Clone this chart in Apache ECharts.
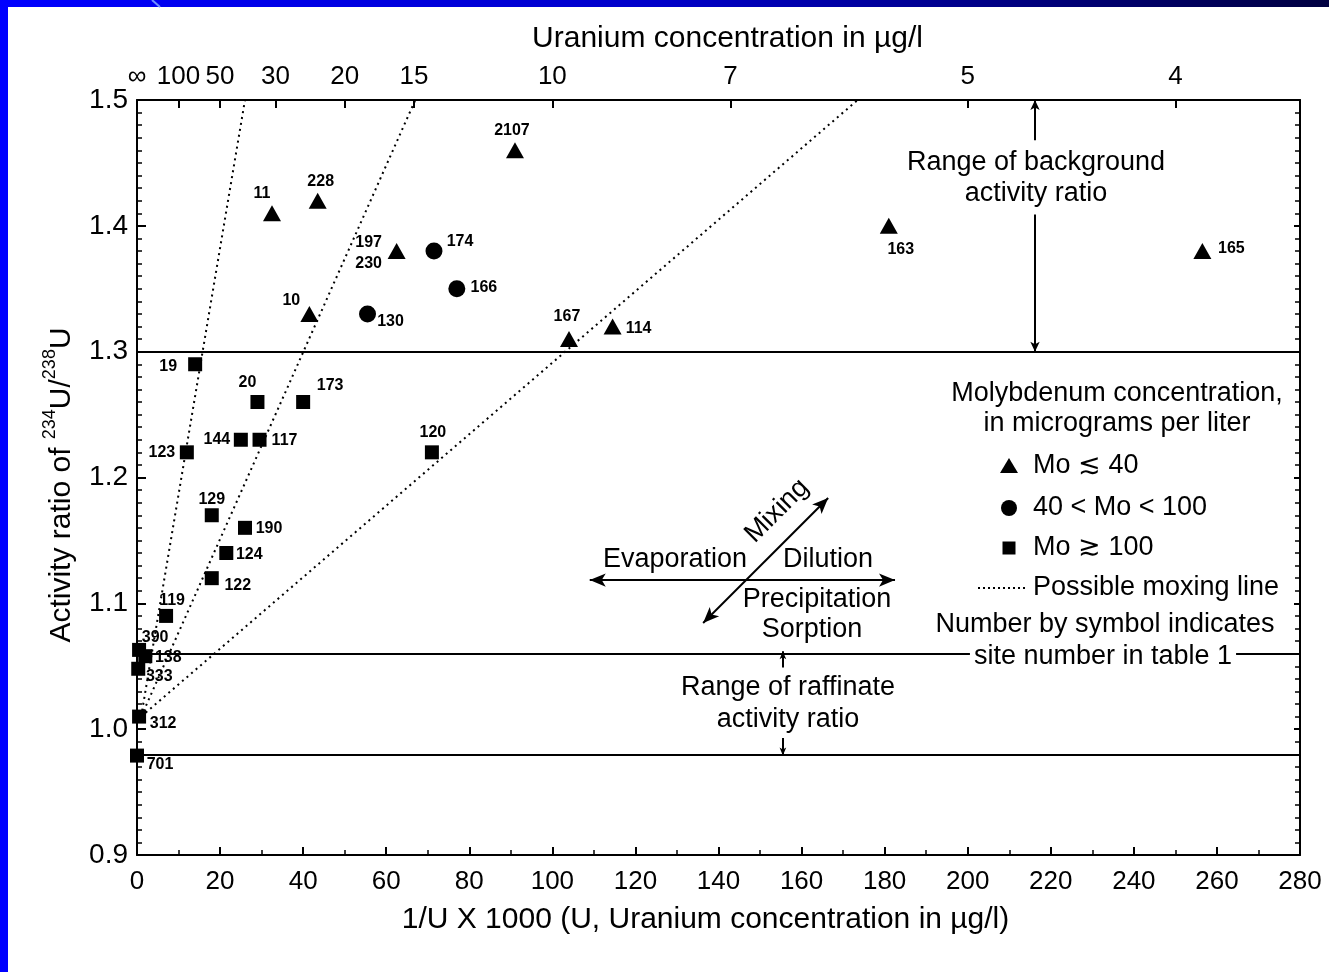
<!DOCTYPE html>
<html>
<head>
<meta charset="utf-8">
<script src="https://cdn.jsdelivr.net/npm/echarts@6/dist/echarts.min.js"></script>
<style>
html,body{margin:0;padding:0;background:#fff;}
#chart{width:1329px;height:972px;}
</style>
</head>
<body>
<div id="chart"></div>
<script>
// ---------- DATA ----------
// Triangles: Mo ≲ 40
const triSites = ['2107', '11', '228', '197\n230', '10', '167', '114', '163', '165'];
const triX = [91, 32.5, 43.5, 62.5, 41.5, 104, 114.5, 181, 256.5];
const triY = [1.46, 1.41, 1.42, 1.38, 1.33, 1.31, 1.32, 1.40, 1.38];
// Circles: 40 < Mo < 100
const circSites = ['174', '166', '130'];
const circX = [71.5, 77, 55.5];
const circY = [1.38, 1.35, 1.33];
// Squares: Mo ≳ 100
const sqSites = ['19', '20', '173', '144', '117', '123', '129', '190', '124', '122', '120', '119', '390', '138', '333', '312', '701'];
const sqX = [14, 29, 40, 25, 29.5, 12, 18, 26, 21.5, 18, 71, 7, 0.5, 2, 0.3, 0.5, 0];
const sqY = [1.29, 1.26, 1.26, 1.23, 1.23, 1.22, 1.17, 1.16, 1.14, 1.12, 1.22, 1.09, 1.063, 1.058, 1.048, 1.01, 0.979];
// Possible mixing lines: common start, individual ends
const mixStart = [1, 1.01];
const mixEndX = [26, 67, 173.5];
const mixEndY = [1.5, 1.5, 1.5];
// Reference horizontal levels (background lower bound, raffinate range)
const refLevels = [1.3, 1.062, 0.979];
// Top axis: uranium concentration (µg/l) labels
const topConc = ['∞', '100', '50', '30', '20', '15', '10', '7', '5', '4'];
const topConcVal = [Infinity, 100, 50, 30, 20, 15, 10, 7, 5, 4];
// Legend entries
const legendNames = ['Mo ≲ 40', '40 < Mo < 100', 'Mo ≳ 100', 'Possible moxing line'];
// Annotation arrows (data coords)
const bgArrowX = 216.2;
const rafArrowX = 155.5;
const processY = 1.1185;
const processX = [109, 182.5];
const mixArrowX = [136.3, 166.4];
const mixArrowY = [1.0844, 1.1837];

// ---------- LABEL PLACEMENT (pixel offsets, style only) ----------
const labelOffset = {
  '2107': [-3, -20], '11': [-10, -20], '228': [3, -19], '197\n230': [-28, 2], '10': [-18, -13],
  '167': [-2, -22], '114': [26, 2], '163': [12, 24], '165': [29, -2],
  '174': [26, -9], '166': [27, -1], '130': [23, 8],
  '19': [-27, 2], '20': [-10, -19], '173': [27, -16], '144': [-24, 0], '117': [25, 1],
  '123': [-25, 0], '129': [0, -16], '190': [24, 1], '124': [23, 2], '122': [26, 7],
  '120': [1, -20], '119': [6, -15], '390': [16, -12], '138': [23, 1], '333': [21, 8],
  '312': [24, 7], '701': [23, 9]
};

const FONT = '"Liberation Sans", Arial, Helvetica, sans-serif';
const ANNO = '27px ' + FONT;

function pts(sites, xs, ys) {
  return sites.map((s, i) => ({
    name: s,
    value: [xs[i], ys[i]],
    label: { offset: labelOffset[s] || [0, 0] }
  }));
}

const topPos = topConcVal.map(c => 1000 / c);
const topMap = {};
topPos.forEach((p, i) => { topMap[p.toFixed(4)] = topConc[i]; });

const ptLabel = {
  show: true, position: 'inside', formatter: '{b}',
  fontFamily: FONT, fontSize: 16, fontWeight: 'bold', color: '#000', lineHeight: 21
};

const blackLine = { color: '#000', width: 2, type: 'solid' };

const mixSeries = mixEndX.map((ex, i) => ({
  name: legendNames[3],
  type: 'line',
  symbol: 'none',
  silent: true,
  clip: true,
  lineStyle: { color: '#000', width: 2, type: [2, 4] },
  itemStyle: { color: '#000' },
  data: [mixStart, [ex, mixEndY[i]]],
  z: 1
}));

// manual legend (icons + texts)
const LX = 1009, LT = 1033, LY = [466, 508, 548, 588];
const legendGraphics = [
  { type: 'polygon', shape: { points: [[LX, LY[0] - 8], [LX + 9, LY[0] + 7], [LX - 9, LY[0] + 7]] }, style: { fill: '#000' }, z: 50 },
  { type: 'circle', shape: { cx: LX, cy: LY[1], r: 8 }, style: { fill: '#000' }, z: 50 },
  { type: 'rect', shape: { x: LX - 6.5, y: LY[2] - 6.5, width: 13, height: 13 }, style: { fill: '#000' }, z: 50 },
  { type: 'line', shape: { x1: 978, y1: LY[3], x2: 1025, y2: LY[3] }, style: { stroke: '#000', lineWidth: 2, lineDash: [2, 3] }, z: 50 }
].concat(legendNames.map((n, i) => ({
  type: 'text', x: LT, y: LY[i], z: 50,
  style: { text: n, font: ANNO, fill: '#000', align: 'left', verticalAlign: 'middle' }
})));

const chart = echarts.init(document.getElementById('chart'), null, { renderer: 'canvas' });

const option = {
  backgroundColor: '#fff',
  animation: false,
  textStyle: { fontFamily: FONT },
  grid: { left: 137, right: 29, top: 100, bottom: 117 },
  xAxis: [
    {
      type: 'value', position: 'bottom', min: 0, max: 280, interval: 20,
      name: '1/U X 1000 (U, Uranium concentration in µg/l)',
      nameLocation: 'middle', nameGap: 50,
      nameTextStyle: { fontFamily: FONT, fontSize: 30, color: '#000', padding: [0, 26, 0, 0] },
      axisLine: { show: true, onZero: false, lineStyle: blackLine },
      axisTick: { show: true, inside: true, length: 8, lineStyle: { color: '#000', width: 2 } },
      minorTick: { show: true, splitNumber: 2, length: 5, lineStyle: { color: '#000', width: 1.5 } },
      axisLabel: { fontFamily: FONT, fontSize: 26, color: '#000', margin: 14 },
      splitLine: { show: false }
    },
    {
      type: 'value', position: 'top', min: 0, max: 280,
      name: 'Uranium concentration in µg/l',
      nameLocation: 'middle', nameGap: 46,
      nameTextStyle: { fontFamily: FONT, fontSize: 30, color: '#000', padding: [0, 0, 0, 18] },
      axisLine: { show: true, onZero: false, lineStyle: blackLine },
      axisTick: { show: true, inside: true, length: 8, customValues: topPos, lineStyle: { color: '#000', width: 2 } },
      axisLabel: {
        fontFamily: FONT, fontSize: 26, color: '#000', margin: 10,
        customValues: topPos,
        formatter: v => topMap[Number(v).toFixed(4)] || ''
      },
      splitLine: { show: false }
    }
  ],
  yAxis: [
    {
      type: 'value', position: 'left', min: 0.9, max: 1.5, interval: 0.1,
      name: '{n|Activity ratio of }{s|234}{n|U/}{s|238}{n|U}',
      nameLocation: 'middle', nameGap: 60, nameRotate: 90,
      nameTextStyle: {
        padding: [0, 15, 0, 0],
        rich: {
          n: { fontFamily: FONT, fontSize: 30, color: '#000', lineHeight: 36, verticalAlign: 'bottom' },
          s: { fontFamily: FONT, fontSize: 18, color: '#000', lineHeight: 36, verticalAlign: 'top', padding: [0, 0, 14, 0] }
        }
      },
      axisLine: { show: true, onZero: false, lineStyle: blackLine },
      axisTick: { show: true, inside: true, length: 9, lineStyle: { color: '#000', width: 2 } },
      minorTick: { show: true, splitNumber: 10, length: 5, lineStyle: { color: '#000', width: 1.5 } },
      axisLabel: { fontFamily: FONT, fontSize: 28, color: '#000', margin: 9, formatter: v => v.toFixed(1) },
      splitLine: { show: false }
    },
    {
      type: 'value', position: 'right', min: 0.9, max: 1.5, interval: 0.1,
      axisLine: { show: true, onZero: false, lineStyle: blackLine },
      axisTick: { show: true, inside: true, length: 6, lineStyle: { color: '#000', width: 2 } },
      minorTick: { show: true, splitNumber: 10, length: 5, lineStyle: { color: '#000', width: 1.5 } },
      axisLabel: { show: false },
      splitLine: { show: false }
    }
  ],
  series: [
    {
      name: legendNames[0], type: 'scatter', symbol: 'triangle', symbolSize: [18, 16],
      itemStyle: { color: '#000', opacity: 1 }, label: ptLabel,
      data: pts(triSites, triX, triY), z: 5
    },
    {
      name: legendNames[1], type: 'scatter', symbol: 'circle', symbolSize: 17,
      itemStyle: { color: '#000', opacity: 1 }, label: ptLabel,
      data: pts(circSites, circX, circY), z: 5
    },
    {
      name: legendNames[2], type: 'scatter', symbol: 'rect', symbolSize: 14,
      itemStyle: { color: '#000', opacity: 1 }, label: ptLabel,
      data: pts(sqSites, sqX, sqY), z: 5
    },
    ...mixSeries,
    {
      name: 'annotations', type: 'line', data: [], silent: true,
      markLine: {
        silent: true, animation: false,
        label: { show: false },
        lineStyle: { color: '#000', width: 2, type: 'solid' },
        symbol: 'none',
        data: refLevels.map(v => ({ yAxis: v }))
          .concat([
            [{ coord: [bgArrowX, 1.468], symbol: 'none' }, { coord: [bgArrowX, 1.5], symbol: 'arrow', symbolSize: [7, 10] }],
            [{ coord: [bgArrowX, 1.409], symbol: 'none' }, { coord: [bgArrowX, refLevels[0]], symbol: 'arrow', symbolSize: [7, 10] }],
            [{ coord: [rafArrowX, 1.049], symbol: 'none' }, { coord: [rafArrowX, refLevels[1]], symbol: 'arrow', symbolSize: [5, 8] }],
            [{ coord: [rafArrowX, 0.993], symbol: 'none' }, { coord: [rafArrowX, refLevels[2]], symbol: 'arrow', symbolSize: [5, 8] }],
            [{ coord: [processX[0], processY], symbol: 'arrow', symbolSize: [10, 16] }, { coord: [processX[1], processY], symbol: 'arrow', symbolSize: [10, 16] }],
            [{ coord: [mixArrowX[0], mixArrowY[0]], symbol: 'arrow', symbolSize: [10, 16] }, { coord: [mixArrowX[1], mixArrowY[1]], symbol: 'arrow', symbolSize: [10, 16] }]
          ])
      }
    }
  ],
  graphic: [
    // frame
    { type: 'rect', left: 0, top: 0, shape: { width: 8, height: 972 }, style: { fill: '#0000ff' }, z: 100 },
    {
      type: 'rect', left: 0, top: 0, shape: { width: 1329, height: 7 }, z: 100,
      style: { fill: new echarts.graphic.LinearGradient(0, 0, 1, 0, [
        { offset: 0, color: '#0000ff' }, { offset: 0.5, color: '#0000c8' }, { offset: 1, color: '#000040' }
      ]) }
    },
    { type: 'line', shape: { x1: 152, y1: 0, x2: 160, y2: 7 }, style: { stroke: '#6f8fff', lineWidth: 2 }, z: 101 },
    // annotation texts
    { type: 'text', x: 1036, y: 178, z: 50, style: { text: 'Range of background\nactivity ratio', font: ANNO, fill: '#000', align: 'center', verticalAlign: 'middle', lineHeight: 31 } },
    { type: 'text', x: 1117, y: 409, z: 50, style: { text: 'Molybdenum concentration,\nin micrograms per liter', font: ANNO, fill: '#000', align: 'center', verticalAlign: 'middle', lineHeight: 30 } },
    { type: 'text', x: 1105, y: 625, z: 50, style: { text: 'Number by symbol indicates', font: ANNO, fill: '#000', align: 'center', verticalAlign: 'middle' } },
    { type: 'text', x: 1103, y: 657, z: 50, style: { text: 'site number in table 1', font: ANNO, fill: '#000', align: 'center', verticalAlign: 'middle', backgroundColor: '#fff', padding: [2, 4] } },
    { type: 'text', x: 675, y: 560, z: 50, style: { text: 'Evaporation', font: ANNO, fill: '#000', align: 'center', verticalAlign: 'middle' } },
    { type: 'text', x: 828, y: 560, z: 50, style: { text: 'Dilution', font: ANNO, fill: '#000', align: 'center', verticalAlign: 'middle' } },
    { type: 'text', x: 817, y: 600, z: 50, style: { text: 'Precipitation', font: ANNO, fill: '#000', align: 'center', verticalAlign: 'middle' } },
    { type: 'text', x: 812, y: 630, z: 50, style: { text: 'Sorption', font: ANNO, fill: '#000', align: 'center', verticalAlign: 'middle' } },
    { type: 'text', x: 777, y: 511, rotation: Math.PI / 4, z: 50, style: { text: 'Mixing', font: ANNO, fill: '#000', align: 'center', verticalAlign: 'middle' } },
    { type: 'text', x: 788, y: 704, z: 50, style: { text: 'Range of raffinate\nactivity ratio', font: ANNO, fill: '#000', align: 'center', verticalAlign: 'middle', lineHeight: 32 } }
  ].concat(legendGraphics)
};

chart.setOption(option);
</script>
</body>
</html>
